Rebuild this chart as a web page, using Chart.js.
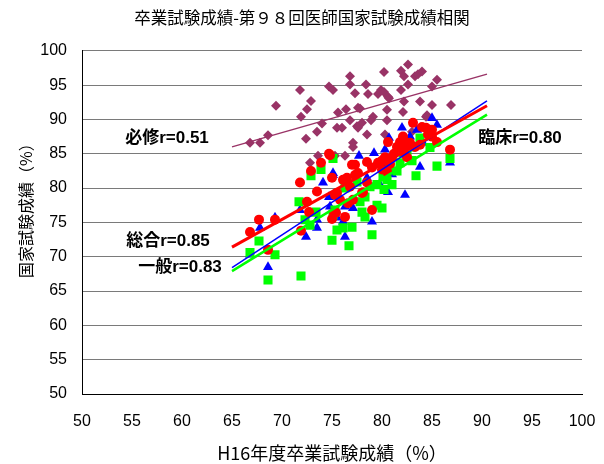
<!DOCTYPE html>
<html>
<head>
<meta charset="utf-8">
<script src="https://cdn.jsdelivr.net/npm/chart.js@4.4.1/dist/chart.umd.min.js"></script>
<style>
    body { margin: 0; background: #fff; }
    #wrap { width: 604px; height: 464px; }
</style>
</head>
<body>
<div id="wrap"><canvas id="corrChart" width="604" height="464"></canvas></div>
<script>
// Data (graduation exam score vs national exam score)
const hissuX = [76.8, 76.8, 71.8, 74.7, 75.1, 77.3, 72.9, 72.5, 71.9, 69.4, 76.4, 75.6, 77.6, 76.8, 74.0, 73.5, 75.5, 76.0, 77.5, 72.4, 68.6, 67.8, 66.8, 77.1, 77.1, 73.6, 75.3, 76.3, 72.8, 80.2, 81.9, 82.6, 82.2, 83.3, 83.6, 84.0, 85.5, 85.0, 78.4, 78.6, 79.9, 80.2, 79.6, 80.6, 80.7, 81.9, 82.6, 82.2, 85.0, 86.9, 77.8, 79.1, 78.9, 80.5, 82.1, 80.5, 84.4, 78.0, 77.6, 78.5, 80.3, 83.0, 83.8, 84.5];
const hissuY = [96.3, 95.1, 94.3, 94.8, 94.3, 93.8, 92.7, 91.5, 90.4, 92.0, 91.5, 91.0, 91.7, 89.9, 89.4, 88.2, 88.8, 88.8, 89.0, 87.2, 87.7, 86.6, 86.6, 86.6, 86.0, 84.7, 84.7, 84.7, 83.7, 96.9, 97.1, 98.0, 96.3, 96.3, 96.6, 97.0, 95.8, 94.8, 95.1, 93.7, 94.3, 94.0, 93.7, 93.3, 93.1, 94.3, 95.1, 92.6, 92.1, 92.1, 91.6, 90.4, 89.9, 91.4, 91.1, 89.9, 90.4, 89.5, 88.8, 87.8, 87.8, 88.2, 92.6, 90.6];

const sogoX = [74.7, 72.9, 73.9, 71.8, 73.5, 72.5, 72.7, 71.9, 75.0, 69.3, 67.7, 66.8, 68.6, 75.2, 80.6, 82.0, 82.3, 80.3, 79.6, 80.0, 80.5, 78.5, 77.3, 77.0, 77.6, 77.3, 76.5, 76.1, 76.8, 75.0, 78.5, 78.1, 78.0, 75.5, 75.3, 75.8, 77.1, 76.6, 75.4, 76.3, 79.0, 74.8, 83.1, 84.0, 84.4, 85.0, 84.6, 85.0, 82.1, 81.8, 82.5, 82.8, 83.3, 83.8, 85.5, 82.1, 86.8, 80.0, 81.0, 81.5, 80.8, 81.2, 79.0, 82.5];
const sogoY = [85.0, 82.5, 83.7, 80.8, 79.5, 78.0, 76.5, 73.8, 75.5, 75.4, 75.4, 73.6, 71.0, 76.4, 86.7, 86.3, 85.9, 84.5, 83.7, 82.7, 82.4, 83.8, 83.4, 83.4, 82.2, 81.9, 81.5, 81.2, 80.2, 81.5, 80.8, 79.4, 79.3, 79.3, 79.0, 78.3, 78.3, 77.8, 76.4, 75.8, 76.8, 84.8, 89.5, 88.9, 88.8, 88.5, 87.8, 87.5, 87.5, 86.7, 86.6, 86.6, 86.0, 86.3, 86.7, 85.3, 85.6, 84.0, 84.5, 86.0, 83.5, 85.0, 83.0, 84.5];

const ippanX = [74.1, 71.8, 73.5, 72.4, 74.7, 75.1, 67.8, 69.3, 66.8, 68.6, 73.5, 77.7, 79.2, 80.3, 75.1, 82.3, 80.6, 76.3, 77.1, 79.0, 76.3, 74.8, 75.5, 76.1, 85.0, 85.5, 82.0, 83.8, 86.8, 84.1, 80.7, 81.0, 79.8, 82.8, 83.5, 78.5, 80.2];
const ippanY = [80.8, 76.8, 75.4, 72.9, 78.7, 81.9, 74.2, 75.7, 70.3, 68.5, 74.2, 84.7, 85.1, 85.6, 82.2, 79.0, 79.4, 77.3, 77.1, 75.1, 72.9, 77.3, 75.7, 75.1, 90.2, 89.2, 88.8, 83.1, 83.7, 86.6, 87.3, 82.0, 80.5, 87.5, 88.5, 81.5, 83.0];

const rinshoX = [72.9, 73.9, 71.7, 72.3, 72.8, 73.4, 75.1, 75.0, 67.7, 66.8, 69.3, 68.6, 71.9, 75.1, 82.1, 80.1, 80.5, 78.8, 77.5, 76.3, 78.3, 77.8, 78.0, 78.3, 75.3, 77.0, 76.1, 75.5, 79.0, 76.7, 79.5, 80.0, 83.8, 84.8, 82.5, 86.8, 85.5, 83.4, 81.8, 80.8, 81.5, 79.5, 80.2, 82.8, 81.0, 80.5, 83.0];
const rinshoY = [81.8, 82.7, 78.0, 75.4, 74.6, 76.5, 76.1, 72.4, 72.3, 70.6, 70.3, 66.6, 67.2, 84.3, 85.1, 81.6, 81.2, 80.2, 80.9, 80.0, 78.7, 78.0, 76.5, 75.8, 76.8, 74.3, 74.2, 73.9, 73.2, 71.6, 77.5, 77.1, 87.3, 85.9, 85.1, 84.3, 83.2, 81.8, 83.7, 83.0, 82.5, 80.5, 79.8, 86.0, 80.5, 84.2, 84.0];

// Trend lines (end points)
const trendX = [65, 90.5];
const hissuTrend = [86.0, 96.6];
const sogoTrend = [71.4, 92.0];
const ippanTrend = [68.4, 92.7];
const rinshoTrend = [67.9, 90.7];

// Correlation labels
const rLabels = ['必修r=0.51', '総合r=0.85', '一般r=0.83', '臨床r=0.80'];

document.addEventListener('DOMContentLoaded', () => {
    const ctx = document.getElementById('corrChart').getContext('2d');
    const latin = "'Liberation Sans', 'Noto Sans CJK JP', sans-serif";
    const cjk = "'Noto Sans CJK JP', 'Liberation Sans', sans-serif";

    const pts = (xs, ys) => xs.map((x, i) => ({ x: x, y: ys[i] }));

    // label anchors in data units
    const labelPos = [[58.5, 87.3], [58.6, 72.2], [59.8, 68.5], [93.8, 87.3]];

    const rLabelPlugin = {
        id: 'rLabels',
        afterDatasetsDraw(chart) {
            const c = chart.ctx;
            const xs = chart.scales.x, ys = chart.scales.y;
            c.save();
            c.font = "bold 17px " + latin;
            c.fillStyle = '#000';
            c.textAlign = 'center';
            c.textBaseline = 'middle';
            rLabels.forEach((t, i) => {
                c.fillText(t, xs.getPixelForValue(labelPos[i][0]), ys.getPixelForValue(labelPos[i][1]));
            });

            // y axis title, drawn by hand so it can sit a bit above centre like the original
            c.font = "16px " + cjk;
            c.translate(26, ys.getPixelForValue(77.3));
            c.rotate(-Math.PI / 2);
            c.fillText('国家試験成績（%）', 0, 0);
            c.restore();
        }
    };

    const trend = (ys, color, w) => ({
        type: 'line',
        data: pts(trendX, ys),
        borderColor: color,
        borderWidth: w,
        pointRadius: 0,
        fill: false,
        order: 0
    });

    const scatter = (data, style, color, r, ord) => ({
        data: data,
        pointStyle: style,
        pointRadius: r,
        pointBackgroundColor: color,
        pointBorderColor: color,
        pointBorderWidth: 0,
        order: ord
    });

    new Chart(ctx, {
        type: 'scatter',
        data: {
            datasets: [
                trend(hissuTrend, '#993366', 1.5),
                trend(sogoTrend, '#ff0000', 3),
                trend(ippanTrend, '#0000ff', 1.5),
                trend(rinshoTrend, '#00ff00', 2.5),
                scatter(pts(sogoX, sogoY), 'circle', '#ff0000', 5, 1),
                scatter(pts(rinshoX, rinshoY), 'rect', '#00ff00', 6.4, 2),
                scatter(pts(ippanX, ippanY), 'triangle', '#0000ff', 5.8, 3),
                scatter(pts(hissuX, hissuY), 'rectRot', '#993366', 5, 4)
            ]
        },
        options: {
            responsive: false,
            animation: false,
            devicePixelRatio: 1,
            layout: { padding: 0 },
            plugins: {
                legend: { display: false },
                tooltip: { enabled: false },
                title: {
                    display: true,
                    text: '卒業試験成績-第９８回医師国家試験成績相関',
                    color: '#000',
                    font: { family: cjk, size: 16.5, weight: 'normal' },
                    padding: { top: 8, bottom: 23 }
                }
            },
            scales: {
                x: {
                    type: 'linear',
                    min: 50,
                    max: 100,
                    ticks: { stepSize: 5, color: '#000', padding: 18, font: { family: latin, size: 16 } },
                    grid: { display: false, drawTicks: false },
                    border: { display: true, color: '#000', width: 1 },
                    title: {
                        display: true,
                        text: 'H16年度卒業試験成績（%）',
                        color: '#000',
                        font: { family: cjk, size: 18 },
                        padding: { top: 3, bottom: 0 }
                    },
                    afterFit: (s) => {
                        s.height = 70;
                        s.paddingLeft = 0;
                        s.paddingRight = 22;
                    }
                },
                y: {
                    type: 'linear',
                    min: 50,
                    max: 100,
                    ticks: { stepSize: 5, color: '#000', padding: 15, font: { family: latin, size: 16 } },
                    grid: { color: '#7a7a7a', lineWidth: 1, drawTicks: false },
                    border: { display: true, color: '#000', width: 1 },
                    afterFit: (s) => { s.width = 82; }
                }
            }
        },
        plugins: [rLabelPlugin]
    });
});
</script>
</body>
</html>
